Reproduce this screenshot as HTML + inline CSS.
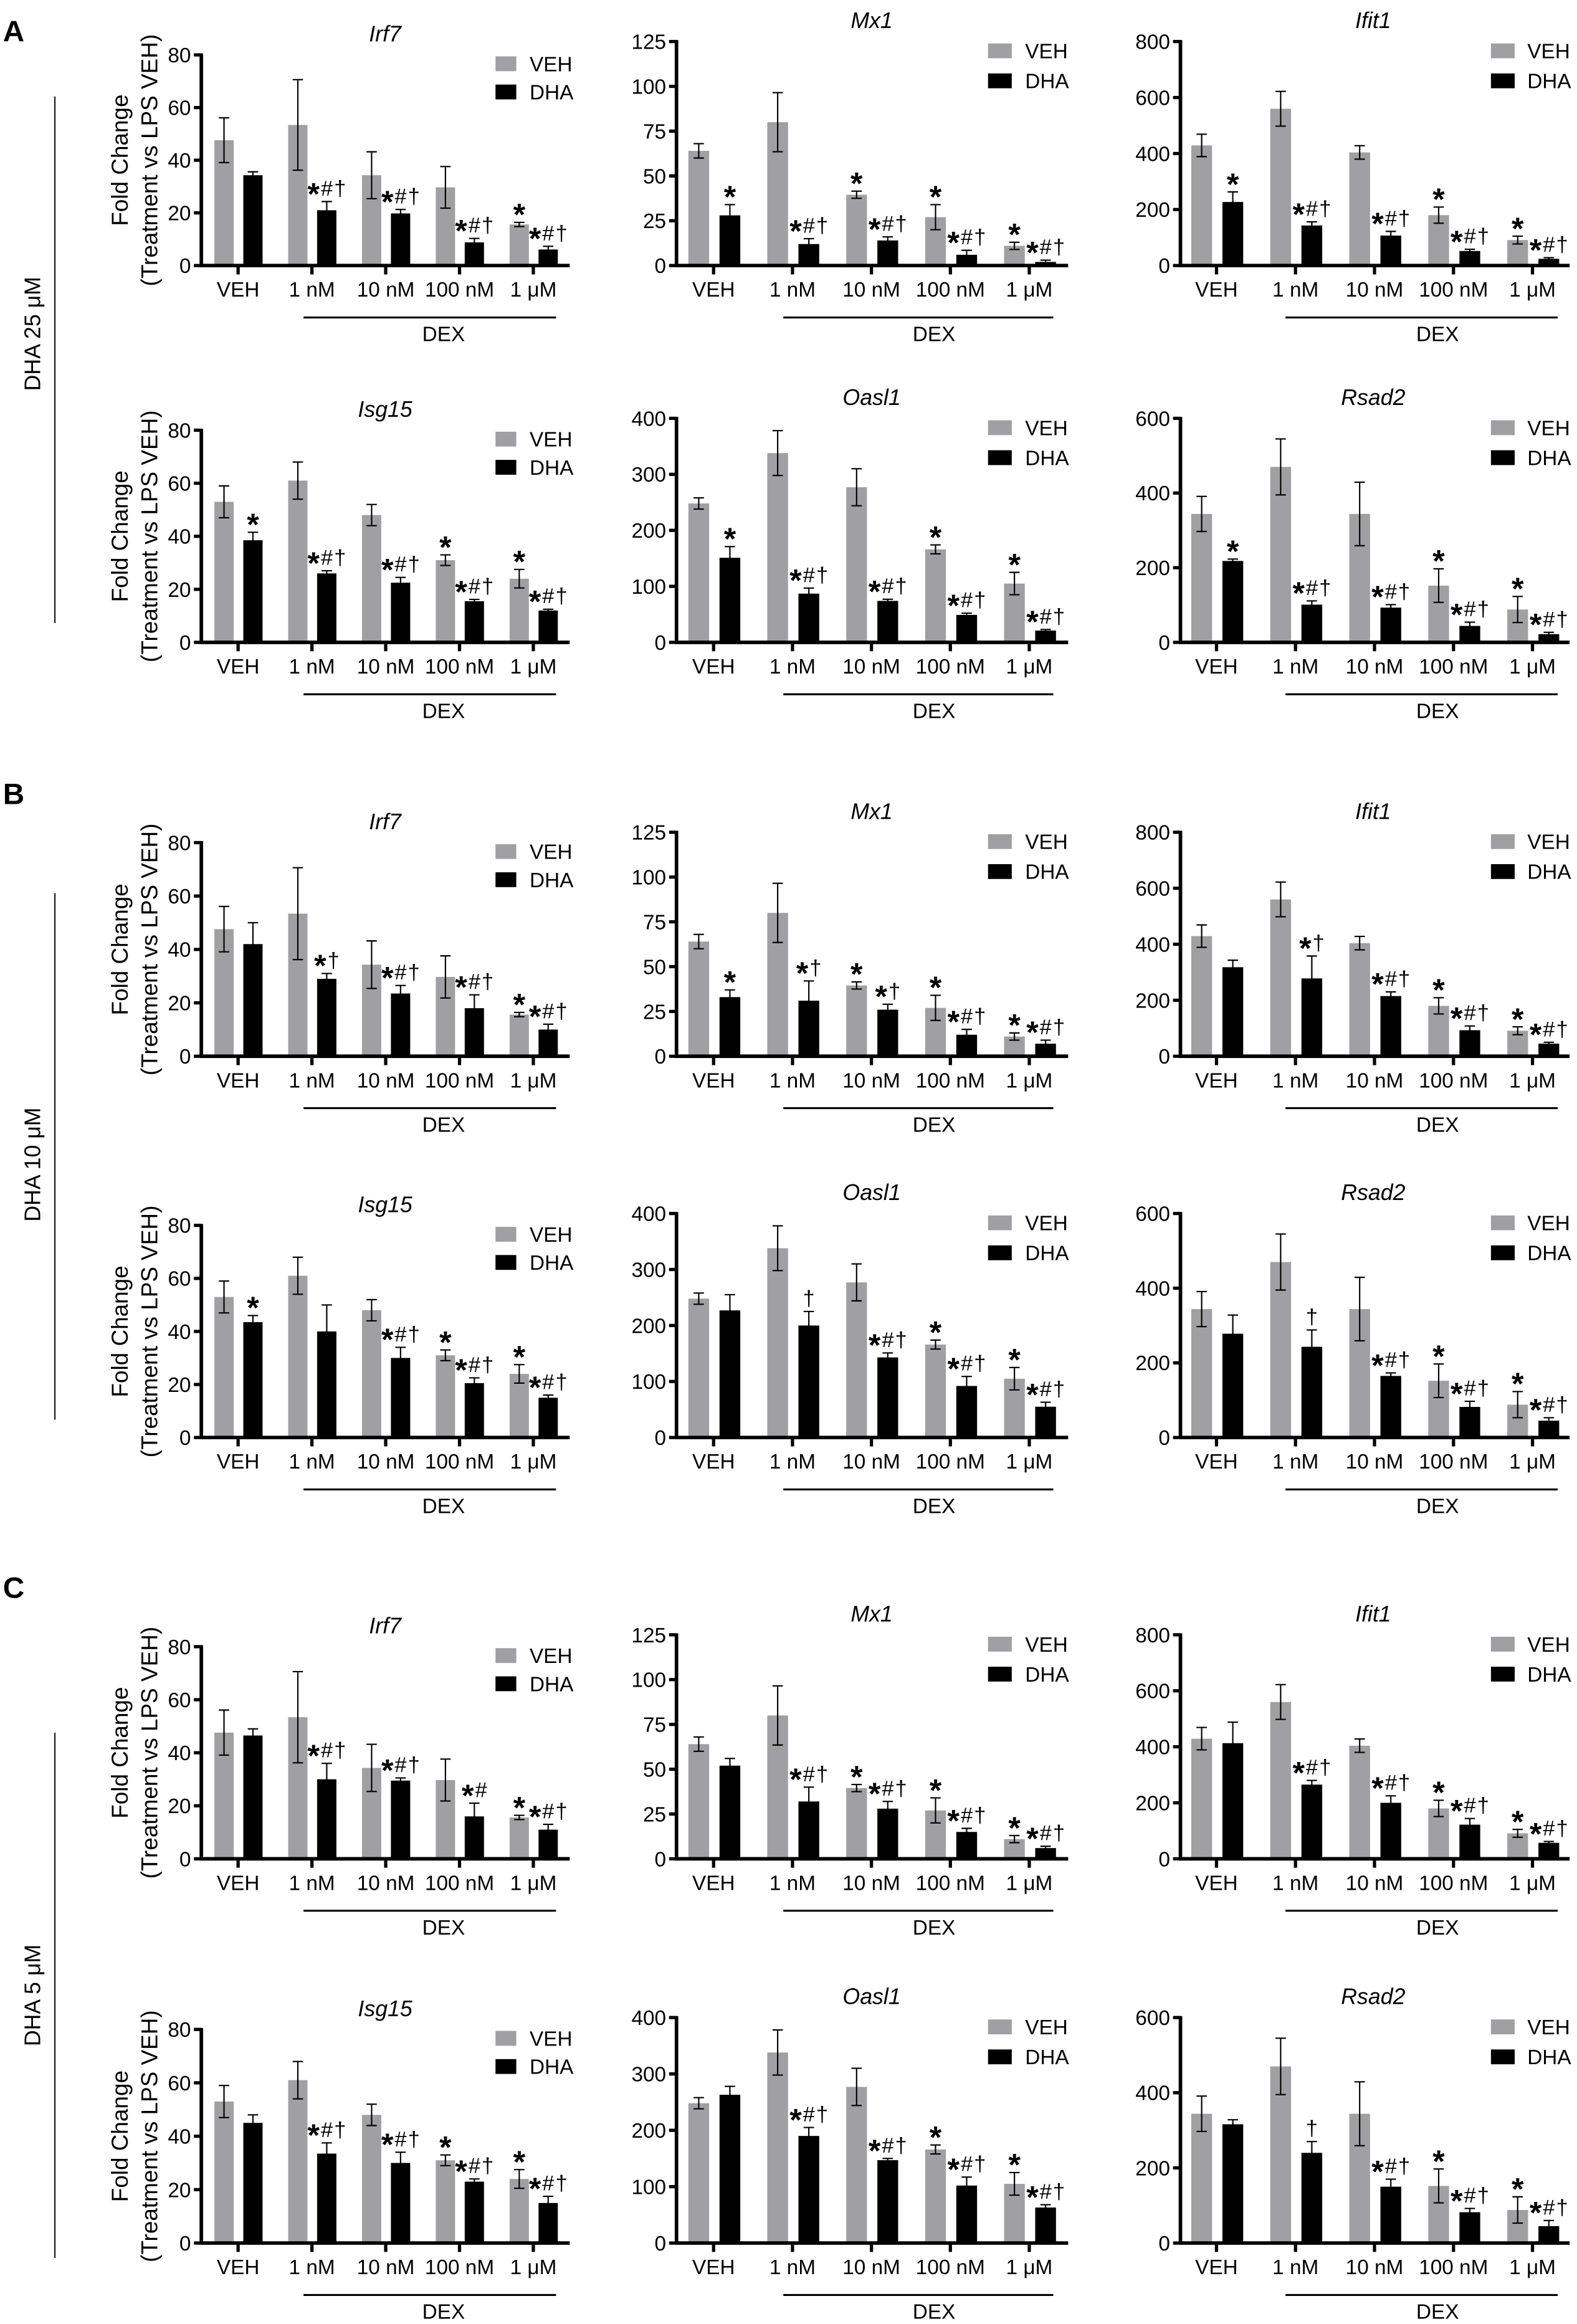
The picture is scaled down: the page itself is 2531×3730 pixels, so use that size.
<!DOCTYPE html>
<html><head><meta charset="utf-8"><style>
html,body{margin:0;padding:0;background:#fff;}
svg{display:block;}
.n{font-family:"Liberation Sans Narrow","Liberation Sans",sans-serif;}
.r{font-family:"Liberation Sans",sans-serif;}
</style></head>
<body>
<svg id="fig" xmlns="http://www.w3.org/2000/svg" width="2531" height="3730" viewBox="0 0 1063 1566.57"></svg>
<script>
const categories = ["VEH","1 nM","10 nM","100 nM","1 μM"];
const genes = ["Irf7","Mx1","Ifit1","Isg15","Oasl1","Rsad2"];
const axisMax = [80,125,800,80,400,600];
const tickStep = [20,25,200,20,100,200];
const sectionLetters = ["A","B","C"];
const sectionLabels = ["DHA 25 μM","DHA 10 μM","DHA 5 μM"];
const vehIrf7 = [47.6,53.4,34.3,29.7,15.6];
const vehIrf7Err = [8.5,17.2,8.9,7.9,0.8];
const vehMx1 = [64,80,39.5,27,11];
const vehMx1Err = [4,16.5,2,7,2];
const vehIfit1 = [429,560,404,180,91];
const vehIfit1Err = [40,62,24,29,14];
const vehIsg15 = [53,61,48,31,24];
const vehIsg15Err = [6,7,4,2,3.5];
const vehOasl1 = [248,338,277,166,105];
const vehOasl1Err = [10,40,33,8,20];
const vehRsad2 = [344,470,344,152,88];
const vehRsad2Err = [47,75,85,45,35];
const dha25Irf7 = [34.3,21,19.8,8.8,6.1];
const dha25Irf7Err = [1.3,3.3,1.5,1.5,1.2];
const dha25Mx1 = [28,12,14,6,2];
const dha25Mx1Err = [6,3,2,2.5,1];
const dha25Ifit1 = [227,143,107,52,24];
const dha25Ifit1Err = [36,13,15,6,4];
const dha25Isg15 = [38.5,26,22.5,15.5,12];
const dha25Isg15Err = [3,1,2,0.7,0.5];
const dha25Oasl1 = [151,87,74,49,21];
const dha25Oasl1Err = [20,10,3,3,2];
const dha25Rsad2 = [218,101,93,44,22];
const dha25Rsad2Err = [5,10,8,10,5];
const dha10Irf7 = [42,29,23.5,18,10];
const dha10Irf7Err = [8,2,3,5,2];
const dha10Mx1 = [33,31,26,12,7];
const dha10Mx1Err = [4,11,3,3,2];
const dha10Ifit1 = [318,278,215,93,45];
const dha10Ifit1Err = [25,80,15,15,5];
const dha10Isg15 = [43.5,40,30,20.5,15];
const dha10Isg15Err = [2.5,10,4,2,1];
const dha10Oasl1 = [227,200,143,92,55];
const dha10Oasl1Err = [28,25,8,17,8];
const dha10Rsad2 = [278,243,165,82,45];
const dha10Rsad2Err = [50,45,8,15,8];
const dha5Irf7 = [46.5,30,29.5,16,11];
const dha5Irf7Err = [2.5,6,1,5,2];
const dha5Mx1 = [52,32,28,15,6];
const dha5Mx1Err = [4,8,4,2,1];
const dha5Ifit1 = [413,265,200,122,57];
const dha5Ifit1Err = [75,15,25,22,5];
const dha5Isg15 = [45,33.5,30,23,15];
const dha5Isg15Err = [3,4,4,1,2.5];
const dha5Oasl1 = [263,190,147,102,63];
const dha5Oasl1Err = [15,15,3,15,5];
const dha5Rsad2 = [316,240,150,82,45];
const dha5Rsad2Err = [12,30,20,10,15];
const vehMarks = [["","","","","*"],["","","*","*","*"],["","","","*","*"],["","","","*","*"],["","","","*","*"],["","","","*","*"]];
const dha25Marks = [["","*#†","*#†","*#†","*#†"],["*","*#†","*#†","*#†","*#†"],["*","*#†","*#†","*#†","*#†"],["*","*#†","*#†","*#†","*#†"],["*","*#†","*#†","*#†","*#†"],["*","*#†","*#†","*#†","*#†"]];
const dha10Marks = [["","*†","*#†","*#†","*#†"],["*","*†","*†","*#†","*#†"],["","*†","*#†","*#†","*#†"],["*","","*#†","*#†","*#†"],["","†","*#†","*#†","*#†"],["","†","*#†","*#†","*#†"]];
const dha5Marks = [["","*#†","*#†","*#","*#†"],["","*#†","*#†","*#†","*#†"],["","*#†","*#†","*#†","*#†"],["","*#†","*#†","*#†","*#†"],["","*#†","*#†","*#†","*#†"],["","†","*#†","*#†","*#†"]];

const vehData = [vehIrf7,vehMx1,vehIfit1,vehIsg15,vehOasl1,vehRsad2];
const vehErrs = [vehIrf7Err,vehMx1Err,vehIfit1Err,vehIsg15Err,vehOasl1Err,vehRsad2Err];
const dhaData = [[dha25Irf7,dha25Mx1,dha25Ifit1,dha25Isg15,dha25Oasl1,dha25Rsad2],[dha10Irf7,dha10Mx1,dha10Ifit1,dha10Isg15,dha10Oasl1,dha10Rsad2],[dha5Irf7,dha5Mx1,dha5Ifit1,dha5Isg15,dha5Oasl1,dha5Rsad2]];
const dhaErrs = [[dha25Irf7Err,dha25Mx1Err,dha25Ifit1Err,dha25Isg15Err,dha25Oasl1Err,dha25Rsad2Err],[dha10Irf7Err,dha10Mx1Err,dha10Ifit1Err,dha10Isg15Err,dha10Oasl1Err,dha10Rsad2Err],[dha5Irf7Err,dha5Mx1Err,dha5Ifit1Err,dha5Isg15Err,dha5Oasl1Err,dha5Rsad2Err]];
const dhaMarks = [dha25Marks,dha10Marks,dha5Marks];

const cols = [
 {ax:135.7,end:384,t0:160.5,sp:49.75,o1:-9.5,o2:10,bw:13,tx:259.6,sq:334,sqw:14,lt:357,dl:204.6,dr:374.8,dx:299},
 {ax:456,end:720,t0:481,sp:53.2,o1:-10,o2:11,bw:14,tx:587.6,sq:666,sqw:16,lt:691,dl:528,dr:710,dx:629.6},
 {ax:795.7,end:1058,t0:820,sp:53.25,o1:-10,o2:11,bw:14,tx:925.6,sq:1005,sqw:16,lt:1029.5,dl:866.5,dr:1050,dx:969}
];
const rows = [[179,37,28],[433,290,282],[712,568,561],[969,826,818],[1253,1110,1102],[1512,1368,1360]];
const sideLines = [[65,420,225,28],[602,957,785,542],[1168,1522,1345,1077]];

const NS="http://www.w3.org/2000/svg";
const svg=document.getElementById('fig');
function mk(tag,attrs,parent,text){const e=document.createElementNS(NS,tag);for(const k in attrs)e.setAttribute(k,attrs[k]);if(text!==undefined)e.textContent=text;(parent||svg).appendChild(e);return e;}

for(let s=0;s<3;s++){
  const sl=sideLines[s];
  const letter=mk('text',{x:2,y:sl[3],'font-size':20,'font-weight':'bold',class:'r'},svg,sectionLetters[s]);
  
  
  const vl=mk('line',{x1:37,x2:37,y1:sl[0],y2:sl[1],stroke:'#000','stroke-width':0.8});
  
  
  const lab=mk('text',{x:0,y:0,'font-size':15,class:'r','text-anchor':'middle',transform:'translate(27,'+sl[2]+') rotate(-90)'},svg,sectionLabels[s]);
  
  
  for(let rr=0;rr<2;rr++){
    const row=rows[s*2+rr];
    for(let c=0;c<3;c++){
      const gi=rr*3+c; const col=cols[c];
      const y0=row[0]; const top=(c===0)?row[1]:row[2];
      const mx=axisMax[gi];
      const yS=v=>y0-(v/mx)*(y0-top);
      const g=mk('g',{});
      
      
      const t=mk('text',{x:col.tx,y:top-9,'font-size':15,'font-style':'italic','text-anchor':'middle',class:'n'},g,genes[gi]);
      
      
      for(let i=0;i<5;i++){
        const cx=col.t0+i*col.sp;
        const series=[[vehData[gi][i],vehErrs[gi][i],'#a0a0a4',col.o1,vehMarks[gi][i],'veh'],[dhaData[s][gi][i],dhaErrs[s][gi][i],'#000',col.o2,dhaMarks[s][gi][i],'dha']];
        for(const sr of series){
          const bx=cx+sr[3]; const yt=yS(sr[0]);
          const b=mk('rect',{x:bx-col.bw/2,y:yt,width:col.bw,height:y0-yt,fill:sr[2]},g);
          
          
          const eh=yS(sr[0]+sr[1]), el=yS(Math.max(0,sr[0]-sr[1]));
          const ep=mk('path',{d:'M'+bx+' '+eh+'V'+el+'M'+(bx-3.5)+' '+eh+'H'+(bx+3.5)+'M'+(bx-3.5)+' '+el+'H'+(bx+3.5),stroke:'#000','stroke-width':0.9,fill:'none'},g);
          
          
          if(sr[4]){
            const m=mk('text',{x:bx,y:eh-4,'text-anchor':'middle','font-size':14.5,class:'n'},g);
            
            
            for(const ch of sr[4]){
              if(ch==='*'){mk('tspan',{'font-size':21,'font-weight':'bold',dy:6,class:'r'},m,'*');mk('tspan',{dy:-6,'font-size':3},m,' ');}
              else {mk('tspan',{},m,ch);mk('tspan',{'font-size':3},m,' ');}
            }
          }
        }
        const tk=mk('line',{x1:cx,x2:cx,y1:y0,y2:y0+6,stroke:'#000','stroke-width':2.2},g);
        
        
        const tl=mk('text',{x:cx,y:y0+21,'font-size':14,'text-anchor':'middle',class:'n'},g,categories[i]);
        
        
      }
      const xa=mk('line',{x1:col.ax-1.1,x2:col.end,y1:y0,y2:y0,stroke:'#000','stroke-width':2.4},g);
      
      
      const ya=mk('line',{x1:col.ax,x2:col.ax,y1:top-1,y2:y0,stroke:'#000','stroke-width':2.4},g);
      
      
      for(let v=0;v<=mx;v+=tickStep[gi]){
        const yy=yS(v);
        const yt=mk('line',{x1:col.ax-5,x2:col.ax,y1:yy,y2:yy,stroke:'#000','stroke-width':2.2},g);
        
        
        const yl=mk('text',{x:col.ax-7,y:yy+5,'font-size':14,'text-anchor':'end',class:'n'},g,String(v));
        
        
      }
      const dl=mk('line',{x1:col.dl,x2:col.dr,y1:y0+35,y2:y0+35,stroke:'#000','stroke-width':1.3},g);
      
      
      const dt=mk('text',{x:col.dx,y:y0+51,'font-size':14,'text-anchor':'middle',class:'n'},g,'DEX');
      
      
      const lo1=(c===0)?6:6.3, lo2=(c===0)?25:26.5;
      const lg=mk('g',{},g);
      
      
      [['VEH','#a0a0a4',lo1],['DHA','#000',lo2]].forEach(L=>{
        const r=mk('rect',{x:col.sq,y:top+L[2]-5,width:col.sqw,height:10,fill:L[1]},lg);
        
        
        const lt=mk('text',{x:col.lt,y:top+L[2]+5,'font-size':14,class:'n'},lg,L[0]);
        
        
      });
      if(c===0){
        const yc=(y0+top)/2;
        const a=mk('text',{x:0,y:0,'font-size':15.5,'text-anchor':'middle',class:'r',transform:'translate(86,'+yc+') rotate(-90)'},g,'Fold Change');
        
        
        const b2=mk('text',{x:0,y:0,'font-size':15.5,'text-anchor':'middle',class:'r',transform:'translate(106,'+yc+') rotate(-90)'},g,'(Treatment vs LPS VEH)');
        
        
      }
    }
  }
}
</script>
</body></html>
